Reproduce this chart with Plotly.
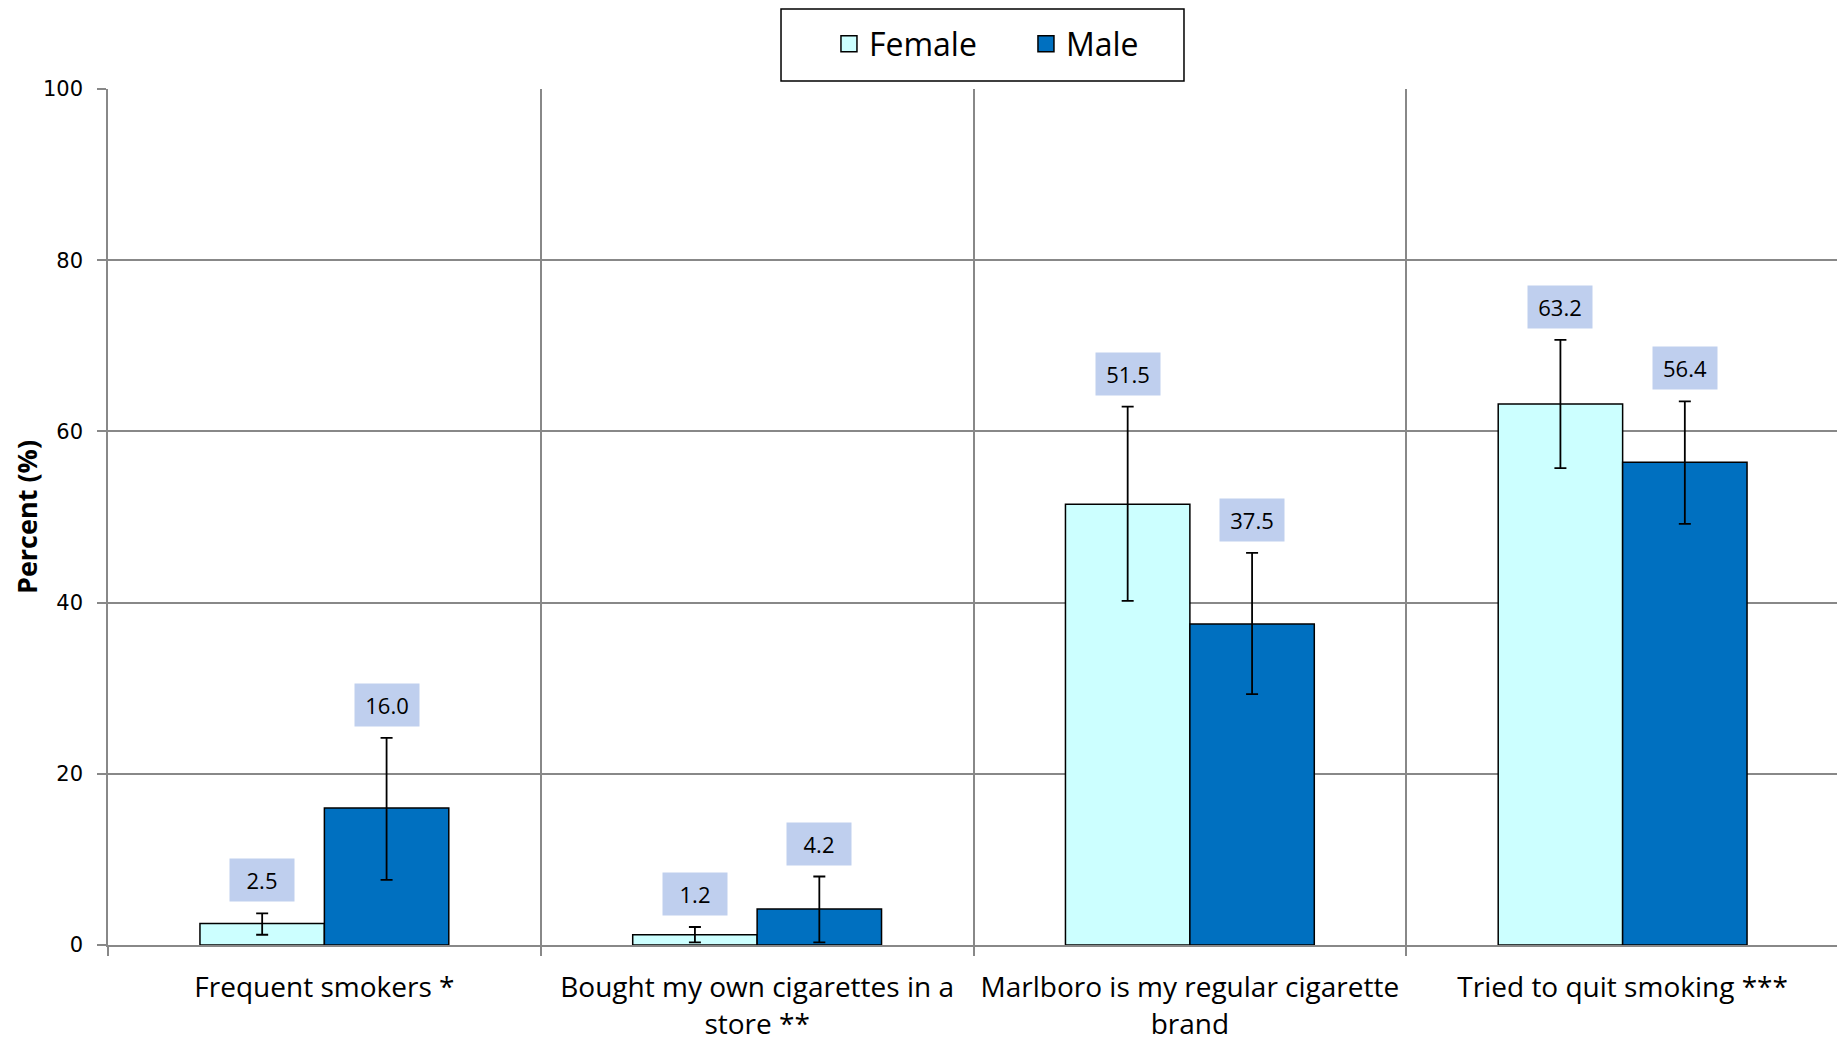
import plotly.graph_objects as go

categories = ["Frequent smokers *", "Bought my own cigarettes in a<br>store **",
              "Marlboro is my regular cigarette<br>brand", "Tried to quit smoking ***"]
female = [2.5, 1.2, 51.5, 63.2]
female_hi = [3.7, 2.1, 62.9, 70.7]
female_lo = [1.2, 0.3, 40.2, 55.7]
male = [16.0, 4.2, 37.5, 56.4]
male_hi = [24.2, 8.0, 45.8, 63.5]
male_lo = [7.6, 0.3, 29.3, 49.2]
y_ticks = [0, 20, 40, 60, 80, 100]

FEMALE_COLOR = "#ccffff"
MALE_COLOR = "#0070c0"
xpos = list(range(len(categories)))
FONT = "Open Sans"

fig = go.Figure()
fig.add_trace(go.Bar(
    name="Female", x=xpos, y=female, showlegend=False,
    marker=dict(color=FEMALE_COLOR, line=dict(color="black", width=1.5)),
    error_y=dict(type="data", symmetric=False,
                 array=[h - v for h, v in zip(female_hi, female)],
                 arrayminus=[v - l for v, l in zip(female, female_lo)],
                 color="black", thickness=1.8, width=6),
))
fig.add_trace(go.Bar(
    name="Male", x=xpos, y=male, showlegend=False,
    marker=dict(color=MALE_COLOR, line=dict(color="black", width=1.5)),
    error_y=dict(type="data", symmetric=False,
                 array=[h - v for h, v in zip(male_hi, male)],
                 arrayminus=[v - l for v, l in zip(male, male_lo)],
                 color="black", thickness=1.8, width=6),
))
# legend-only entries (no data drawn)
for nm, col in (("Female", FEMALE_COLOR), ("Male", MALE_COLOR)):
    fig.add_trace(go.Scatter(
        name=nm, x=[None], y=[None], mode="markers", showlegend=True,
        marker=dict(symbol="square", size=20, color=col, line=dict(color="black", width=1.5)),
    ))

bargap = 0.425
bw = (1 - bargap) / 2
annotations = []
for i in xpos:
    for val, hi, off in ((female[i], female_hi[i], -bw / 2), (male[i], male_hi[i], bw / 2)):
        annotations.append(dict(
            x=i + off, y=hi, xref="x", yref="y", text=f"{val:.1f}",
            showarrow=False, yanchor="bottom", yshift=11,
            width=64, height=42, bgcolor="#bfcfee", borderpad=0,
            font=dict(family=FONT, size=22, color="black"),
        ))

fig.update_layout(
    width=1837, height=1033,
    margin=dict(l=100, r=6, t=81, b=96),
    paper_bgcolor="white", plot_bgcolor="white",
    barmode="group", bargap=bargap, bargroupgap=0,
    font=dict(family=FONT, color="black"),
    showlegend=True,
    legend=dict(orientation="h", x=0.4165, xanchor="left", y=1.0526, yanchor="middle",
                borderwidth=0, bgcolor="rgba(0,0,0,0)",
                font=dict(family=FONT, size=32, color="black"),
                entrywidth=152, itemwidth=30),
    annotations=annotations,
    shapes=[dict(type="rect", xref="paper", yref="paper",
                 x0=0.3888, x1=0.6216, y0=1.0093, y1=1.0935,
                 line=dict(color="black", width=1.5), fillcolor="rgba(0,0,0,0)", layer="below")],
)
fig.update_xaxes(
    automargin=False,
    range=[-0.5, 3.5], tickvals=xpos, ticktext=categories,
    ticks="", showgrid=False, showline=True, linecolor="#888888", linewidth=1.5,
    tickfont=dict(family=FONT, size=28, color="black"), ticklabelstandoff=17,
    minor=dict(tick0=0.5, dtick=1, showgrid=True, gridcolor="#888888", gridwidth=1.5,
               ticks="outside", ticklen=9, tickcolor="#888888", tickwidth=1.5),
    zeroline=False,
)
fig.update_yaxes(
    automargin=False,
    range=[0, 100], tickvals=y_ticks, ticks="outside", ticklen=9, tickcolor="#888888", tickwidth=1.5,
    showgrid=True, gridcolor="#888888", gridwidth=1.5,
    showline=True, linecolor="#888888", linewidth=1.5, zeroline=False,
    tickfont=dict(family="DejaVu Sans", size=21, color="black"), ticklabelstandoff=10,
    title=dict(text="<b>Percent (%)</b>", font=dict(family=FONT, size=27, color="black"), standoff=0),
)

fig.write_html("out.html")
